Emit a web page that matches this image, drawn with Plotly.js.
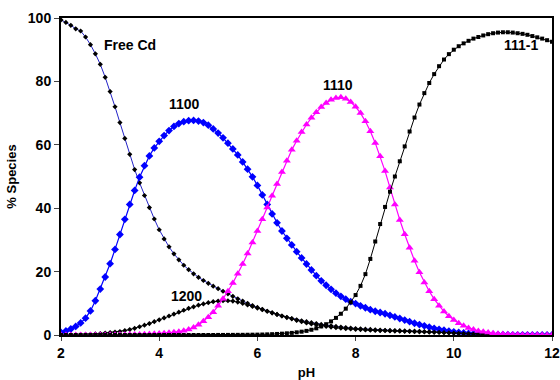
<!DOCTYPE html>
<html><head><meta charset="utf-8">
<script src="https://cdn.plot.ly/plotly-3.0.1.min.js"></script>
<style>html,body{margin:0;padding:0;background:#fff}#chart{width:560px;height:380px}</style>
</head><body><div id="chart"></div>
<script>
const pH = [2.0,2.1,2.2,2.3,2.4,2.5,2.6,2.7,2.8,2.9,3.0,3.1,3.2,3.3,3.4,3.5,3.6,3.7,3.8,3.9,
4.0,4.1,4.2,4.3,4.4,4.5,4.6,4.7,4.8,4.9,5.0,5.1,5.2,5.3,5.4,5.5,5.6,5.7,5.8,5.9,
6.0,6.1,6.2,6.3,6.4,6.5,6.6,6.7,6.8,6.9,7.0,7.1,7.2,7.3,7.4,7.5,7.6,7.7,7.8,7.9,
8.0,8.1,8.2,8.3,8.4,8.5,8.6,8.7,8.8,8.9,9.0,9.1,9.2,9.3,9.4,9.5,9.6,9.7,9.8,9.9,
10.0,10.1,10.2,10.3,10.4,10.5,10.6,10.7,10.8,10.9,11.0,11.1,11.2,11.3,11.4,11.5,11.6,11.7,11.8,11.9,12.0];

const freeCd = [99.4,98.6,97.7,96.6,95.9,94.0,91.6,88.7,85.4,81.3,76.8,72.0,67.0,62.0,57.0,52.2,48.0,44.0,40.2,36.6,
33.2,30.3,27.8,25.6,23.7,22.0,20.6,19.3,18.2,17.2,16.3,15.4,14.6,13.8,13.0,12.2,11.4,10.7,10.0,9.3,
8.7,8.1,7.5,7.0,6.5,6.0,5.6,5.2,4.8,4.5,4.2,3.9,3.6,3.35,3.1,2.9,2.7,2.5,2.35,2.2,
2.05,1.95,1.85,1.75,1.65,1.55,1.5,1.45,1.4,1.35,1.3,1.25,1.2,1.15,1.1,1.05,1.0,0.95,0.9,0.85,
0.8,0.72,0.64,0.55,0.46,0.38,0.3,0.24,0.19,0.15,0.12,0.1,0.08,0.07,0.06,0.05,0.04,0.03,0.03,0.02,0.02];

const s1100 = [0.8,1.3,1.9,2.7,3.8,5.3,7.6,10.8,14.5,18.3,22.5,27.0,31.7,36.5,41.2,45.6,49.8,53.4,56.5,59.0,
61.1,62.9,64.5,65.8,66.7,67.3,67.6,67.7,67.5,67.0,66.2,65.0,63.7,62.2,60.5,58.7,56.8,54.6,52.3,49.9,
47.2,44.2,41.2,38.2,35.4,32.8,30.5,28.4,26.3,24.3,22.4,20.5,18.7,17.1,15.7,14.4,13.2,12.2,11.3,10.5,
9.9,9.2,8.6,8.0,7.5,7.1,6.7,6.2,5.7,5.2,4.7,4.2,3.7,3.3,2.9,2.5,2.1,1.8,1.5,1.25,
1.0,0.8,0.65,0.5,0.4,0.3,0.25,0.2,0.15,0.12,0.1,0.08,0.07,0.06,0.05,0.04,0.03,0.03,0.02,0.02,0.02];

const s1200 = [0.02,0.03,0.05,0.08,0.12,0.17,0.24,0.33,0.45,0.6,0.75,0.92,1.1,1.4,1.7,2.1,2.6,3.1,3.6,4.2,
4.8,5.4,6.0,6.6,7.2,7.8,8.4,8.9,9.4,9.8,10.2,10.5,10.7,10.8,10.8,10.7,10.4,10.0,9.5,9.0,
8.5,8.0,7.5,7.0,6.5,6.0,5.5,5.1,4.6,4.2,3.8,3.5,3.2,2.9,2.7,2.5,2.3,2.15,2.0,1.9,
1.8,1.7,1.6,1.5,1.45,1.4,1.35,1.3,1.25,1.2,1.15,1.1,1.05,1.0,0.95,0.9,0.85,0.8,0.72,0.65,
0.58,0.5,0.43,0.36,0.3,0.25,0.2,0.16,0.13,0.1,0.08,0.06,0.05,0.04,0.03,0.03,0.02,0.02,0.01,0.01,0.01];

const s1110 = [0.0,0.0,0.0,0.0,0.0,0.01,0.01,0.02,0.02,0.03,0.04,0.05,0.07,0.09,0.12,0.15,0.19,0.24,0.3,0.37,
0.45,0.55,0.68,0.85,1.05,1.35,1.75,2.4,3.2,4.3,5.6,7.2,9.2,11.4,13.8,16.4,19.3,22.4,25.7,29.2,
32.8,36.5,40.2,43.9,47.6,51.4,55.0,58.4,61.3,64.0,66.4,68.5,70.3,71.9,73.2,74.2,74.8,75.0,74.5,73.5,
72.0,70.0,67.4,64.3,60.6,56.4,51.7,46.5,41.2,36.3,31.8,27.5,23.4,19.8,16.6,13.8,11.3,9.2,7.4,5.9,
4.7,3.7,2.9,2.2,1.7,1.3,1.0,0.75,0.55,0.4,0.3,0.22,0.16,0.12,0.09,0.07,0.05,0.04,0.03,0.02,0.015];

const s111m1 = [0,0,0,0,0,0,0,0,0,0,0,0,0,0,0,0,0,0,0,0,
0,0,0,0,0,0,0,0,0,0,0.01,0.01,0.02,0.02,0.03,0.04,0.05,0.06,0.08,0.1,
0.12,0.15,0.2,0.26,0.33,0.42,0.53,0.67,0.84,1.05,1.3,1.65,2.1,2.7,3.4,4.3,5.4,6.7,8.3,10.3,
12.6,15.5,19.2,24.0,29.5,35.0,40.4,45.2,50.0,54.8,59.5,64.2,68.6,72.7,76.3,79.5,82.3,84.8,86.9,88.6,
90.0,91.1,92.0,92.8,93.5,94.0,94.5,94.9,95.2,95.4,95.5,95.5,95.4,95.2,95.0,94.7,94.3,93.9,93.5,93.0,92.5];

const labels = ["Free Cd", "1100", "1200", "1110", "111-1"];
const labelX = [3.4, 4.52, 4.56, 7.64, 11.36];
const labelY = [91.5, 72.8, 12.2, 78.9, 91.5];
const xTicks = [2, 4, 6, 8, 10, 12];
const yTicks = [0, 20, 40, 60, 80, 100];

const F = {family: "Liberation Sans, Arial, sans-serif", size: 14, color: "#000", weight: 700};

const traces = [
  {x: pH, y: freeCd, mode: "lines+markers", line: {color: "#2323c8", width: 1},
   marker: {symbol: "diamond", size: 4, color: "#000"}},
  {x: pH, y: s1100, mode: "lines+markers", line: {color: "#0000ff", width: 1.2},
   marker: {symbol: "diamond", size: 6, color: "#0000ff"}},
  {x: pH, y: s1200, mode: "lines+markers", line: {color: "#000", width: 1},
   marker: {symbol: "diamond", size: 4, color: "#000"}},
  {x: pH, y: s1110, mode: "lines+markers", line: {color: "#ff00ff", width: 1.2},
   marker: {symbol: "triangle-up", size: 7, color: "#ff00ff"}},
  {x: pH, y: s111m1, mode: "lines+markers", line: {color: "#000", width: 1},
   marker: {symbol: "square", size: 4, color: "#000"}}
];

const annotations = labels.map((t, i) => ({
  x: labelX[i], y: labelY[i], text: t, showarrow: false, font: F, xanchor: "center", yanchor: "middle"
}));

const layout = {
  width: 560, height: 380,
  margin: {l: 61, r: 8, t: 18, b: 45},
  paper_bgcolor: "#fff", plot_bgcolor: "#fff",
  showlegend: false,
  xaxis: {range: [2, 12], tickvals: xTicks, ticks: "outside", ticklen: 4, tickwidth: 1,
    showline: true, linewidth: 2, linecolor: "#000", mirror: true, showgrid: false, zeroline: false,
    tickfont: F, title: {text: "pH", font: {...F, size: 13}, standoff: 10}},
  yaxis: {range: [0, 100], tickvals: yTicks, ticks: "outside", ticklen: 5, tickwidth: 1,
    showline: true, linewidth: 2, linecolor: "#000", mirror: true, showgrid: false, zeroline: false,
    tickfont: F, title: {text: "% Species", font: {...F, size: 13}, standoff: 8}},
  annotations: annotations
};

Plotly.newPlot("chart", traces, layout, {displayModeBar: false, staticPlot: true});
</script></body></html>
